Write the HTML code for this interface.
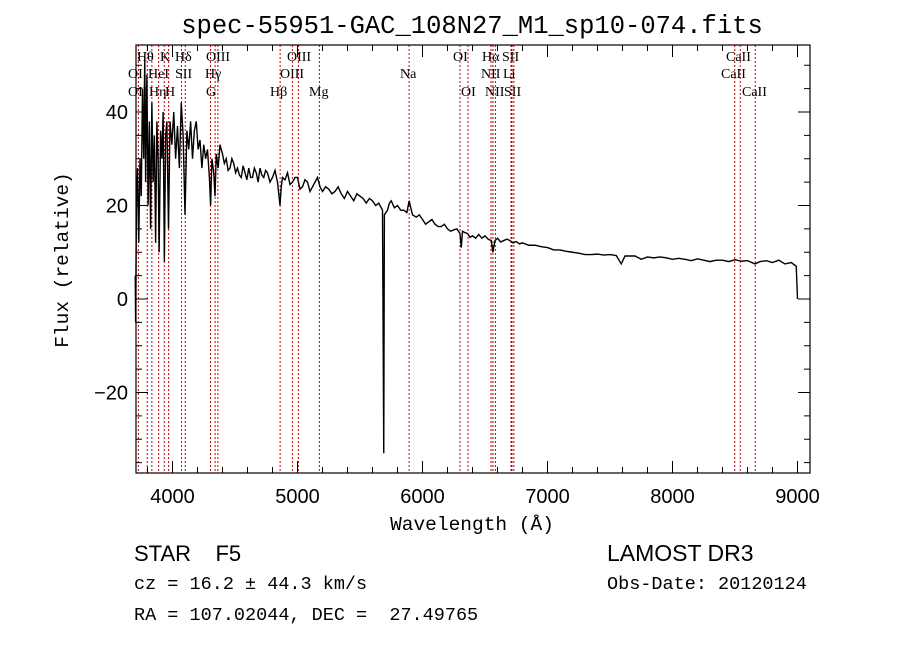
<!DOCTYPE html>
<html><head><meta charset="utf-8"><style>
body{margin:0;background:#fff}
svg{display:block}
text{fill:#000}
</style></head><body>
<svg id="c" width="900" height="649" xmlns="http://www.w3.org/2000/svg">
<rect width="900" height="649" fill="#fff"/>
<text x="472" y="33" text-anchor="middle" font-family="Liberation Mono, monospace" font-size="25.5">spec-55951-GAC_108N27_M1_sp10-074.fits</text>
<g id="lines"></g>
<g id="spec"></g>
<g id="axes"></g>
<g id="lbls" font-family="Liberation Serif, serif" font-size="14"></g>
<text x="472" y="530" text-anchor="middle" font-family="Liberation Mono, monospace" font-size="19.5">Wavelength (Å)</text>
<text transform="translate(68,260) rotate(-90)" text-anchor="middle" font-family="Liberation Mono, monospace" font-size="19.5">Flux (relative)</text>
<text x="134" y="561" font-family="Liberation Sans, sans-serif" font-size="22" xml:space="preserve">STAR    F5</text>
<text x="134" y="589" font-family="Liberation Mono, monospace" font-size="18.5">cz = 16.2 ± 44.3 km/s</text>
<text x="134" y="620" font-family="Liberation Mono, monospace" font-size="18.5" xml:space="preserve">RA = 107.02044, DEC =  27.49765</text>
<text x="607" y="561" font-family="Liberation Sans, sans-serif" font-size="23">LAMOST DR3</text>
<text x="607" y="589" font-family="Liberation Mono, monospace" font-size="18.5">Obs-Date: 20120124</text>
</svg>
<script>
const wave=[3702,3705,3712,3720,3730,3740,3750,3760,3770,3778,3785,3795,3805,3815,3825,3835,3845,3855,3865,3875,3885,3893,3905,3915,3925,3935,3945,3955,3968,3980,3995,4010,4025,4040,4055,4070,4085,4100,4115,4130,4145,4160,4175,4190,4205,4220,4235,4250,4265,4280,4295,4305,4315,4330,4340,4350,4365,4380,4400,4415,4430,4445,4460,4475,4490,4505,4520,4535,4550,4565,4580,4595,4610,4625,4640,4655,4670,4685,4700,4715,4730,4745,4760,4780,4800,4820,4840,4860,4870,4880,4900,4920,4940,4960,4980,5000,5020,5040,5060,5080,5100,5120,5140,5160,5180,5200,5225,5250,5275,5300,5325,5350,5375,5400,5425,5450,5475,5500,5525,5550,5575,5600,5625,5650,5680,5690,5695,5720,5735,5750,5775,5800,5825,5850,5875,5893,5920,5950,5975,6000,6025,6050,6075,6100,6125,6150,6175,6200,6225,6250,6275,6300,6310,6320,6340,6360,6380,6400,6425,6450,6475,6500,6525,6550,6563,6580,6600,6625,6650,6675,6700,6725,6750,6775,6800,6850,6900,6950,7000,7050,7100,7150,7200,7250,7300,7350,7400,7450,7500,7550,7590,7620,7700,7750,7800,7850,7900,7950,8000,8050,8100,8150,8200,8250,8300,8350,8400,8450,8500,8550,8600,8660,8700,8750,8800,8850,8900,8950,8990,9000];
const flux=[5,-5,20,28,12,30,22,45,30,52,25,48,20,38,15,42,25,35,12,38,30,10,36,30,40,8,35,38,15,38,33,40,30,37,28,42,35,18,36,32,38,30,36,38,32,34,28,33,30,32,26,20,30,27,22,31,28,33,31,29,30,27.5,28,30,29,27,28,26.5,26,28.5,27,25.5,28,26,26,28,27,25,28,26.5,26,27.5,27,25,26,27.5,25,20,24,26,25.5,27,24.5,25,26,26,23.5,24,25.5,25,23,24,25,26,24,23,24,23.5,22.5,23,24,22.5,21.5,23,22,21,22.5,22,21.5,20.5,21.5,21,20,20.5,19,-33,18,19,20.5,21,19.5,20,19,19,18.5,21,18,17.5,18,17,16,16.5,17,16,15.5,15.5,16,15,14.5,14.8,15,14,11,14.5,14.2,14,13.2,13.5,13,13.8,13,13.5,12.8,12.5,10,12.5,13,12.2,12.5,12.8,12.5,12,12.3,11.8,12,11.5,11.5,11.2,11,10.5,10.5,10.2,10,9.8,9.5,9.5,9.6,9.4,9.5,9.3,7.5,9.2,9.2,8.5,9,8.8,9,8.8,8.5,8.7,8.5,8.2,8.6,8.3,8,8.3,8.3,8,8.4,8.1,8.2,7.5,8,8.2,7.8,8.3,7.5,7.8,7,0];
const xTicks=[4000,5000,6000,7000,8000,9000];
const yTicks=[-20,0,20,40];
const lineWaves=[3727,3798,3835,3889,3934,3969,4072,4102,4304,4341,4363,4861,4959,5007,5175,5893,6300,6364,6548,6563,6583,6708,6716,6731,8498,8542,8662];
const lineLabels=[["Hθ",137,61],["K",160,61],["Hδ",175,61],["OIII",206,61],["OIII",287,61],["OI",453,61],["Hα",482,61],["SII",502,61],["CaII",726,61],
["OI",128,78],["HeI",148,78],["SII",175,78],["Hγ",205,78],["OIII",280,78],["Na",400,78],["NII",481,78],["Li",503,78],["CaII",721,78],
["OII",128,96],["Hη",149,96],["H",165,96],["G",206,96],["Hβ",270,96],["Mg",309,96],["OI",461,96],["NII",485,96],["SII",504,96],["CaII",742,96]];
const L=136,R=810,T=45,B=473;
const X=w=>172.5+(w-4000)*0.125;
const Y=f=>299-f*4.675;
const NS="http://www.w3.org/2000/svg";
function mk(t,a,p){const e=document.createElementNS(NS,t);for(const k in a)e.setAttribute(k,a[k]);p.appendChild(e);return e;}
const gl=document.getElementById('lines');
lineWaves.forEach(w=>{const e=mk('line',{x1:X(w),x2:X(w),y1:T,y2:B,stroke:'#c00000','stroke-width':1,'stroke-dasharray':'2,2'},gl);

});
const gs=document.getElementById('spec');
const n=Math.min(wave.length,flux.length);
const pts=[];for(let i=0;i<n;i++)pts.push(X(wave[i])+','+Y(flux[i]));
const p=mk('polyline',{points:pts.join(' '),fill:'none',stroke:'#000','stroke-width':1.4},gs);


const ga=document.getElementById('axes');
const fr=mk('rect',{x:L,y:T,width:R-L,height:B-T,fill:'none',stroke:'#000','stroke-width':1.2},ga);


for(let w=3800;w<=9000;w+=200){const maj=w%1000===0;const h=maj?12:6;
mk('line',{x1:X(w),x2:X(w),y1:B,y2:B-h,stroke:'#000'},ga);mk('line',{x1:X(w),x2:X(w),y1:T,y2:T+h,stroke:'#000'},ga);}
for(let f=-35;f<=50;f+=5){const maj=f%20===0;const h=maj?12:6;
mk('line',{x1:L,x2:L+h,y1:Y(f),y2:Y(f),stroke:'#000'},ga);mk('line',{x1:R,x2:R-h,y1:Y(f),y2:Y(f),stroke:'#000'},ga);}
xTicks.forEach(w=>{const t=mk('text',{x:X(w),y:503,'text-anchor':'middle','font-family':'Liberation Sans, sans-serif','font-size':20},ga);t.textContent=w;

});
yTicks.forEach(f=>{const t=mk('text',{x:128,y:Y(f)+7,'text-anchor':'end','font-family':'Liberation Sans, sans-serif','font-size':20},ga);t.textContent=(f<0?'\u2212'+(-f):f);

});
const gb=document.getElementById('lbls');
lineLabels.forEach(l=>{const t=mk('text',{x:l[1],y:l[2]},gb);t.textContent=l[0];

});
</script>
</body></html>
